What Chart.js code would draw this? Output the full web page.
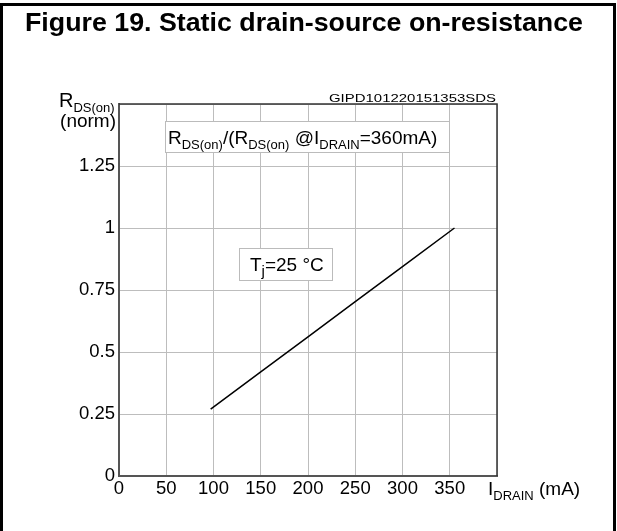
<!DOCTYPE html>
<html lang="en">
<head>
  <meta charset="UTF-8">
  <title>Static drain-source on-resistance</title>
  <script src="https://cdn.jsdelivr.net/npm/chart.js"></script>
  <style>
    body { margin: 0; background: #fff; }
    #chart { display: block; }
  </style>
</head>
<body>
  <canvas id="chart" width="617" height="531"></canvas>
  <script>
    // values
    const drainCurrent = [97, 150, 200, 250, 300, 355];   // mA
    const rdsNorm = [0.27, 0.42, 0.561, 0.703, 0.844, 1.0];
    const xRange = [0, 400];
    const yRange = [0, 1.5];
    const xStep = 50;
    const yStep = 0.25;

    const FONT = "'Liberation Sans', Arial, sans-serif";

    // draws text made of [text, isSubscript] pieces, starting at x
    function drawRich(ctx, parts, x, y, size, subSize) {
      parts.forEach(([t, sub]) => {
        ctx.font = (sub ? subSize : size) + 'px ' + FONT;
        ctx.fillText(t, x, sub ? y + 5 : y);
        x += ctx.measureText(t).width;
      });
    }

    function fitText(ctx, text, x, y, width, align) {
      const w = ctx.measureText(text).width;
      const sx = width / w;
      ctx.save();
      ctx.translate(x, y);
      ctx.scale(sx, 1);
      ctx.textAlign = align;
      ctx.fillText(text, 0, 0);
      ctx.restore();
    }

    function box(ctx, x1, y1, x2, y2) {
      ctx.fillStyle = '#fff';
      ctx.fillRect(x1, y1, x2 - x1, y2 - y1);
      ctx.strokeStyle = '#bbb';
      ctx.lineWidth = 1;
      ctx.strokeRect(x1 + 0.5, y1 + 0.5, x2 - x1, y2 - y1);
    }

    const figureText = {
      id: 'figureText',
      afterDraw(chart) {
        const ctx = chart.ctx;
        const a = chart.chartArea;
        ctx.save();

        // top and right edges of the plot
        ctx.strokeStyle = '#333';
        ctx.lineWidth = 1.5;
        ctx.beginPath();
        ctx.moveTo(a.left, a.top);
        ctx.lineTo(a.right, a.top);
        ctx.lineTo(a.right, a.bottom);
        ctx.stroke();

        // outer frame
        ctx.strokeStyle = '#000';
        ctx.lineWidth = 3;
        ctx.beginPath();
        ctx.moveTo(1.5, 540);
        ctx.lineTo(1.5, 4.5);
        ctx.lineTo(614.5, 4.5);
        ctx.lineTo(614.5, 540);
        ctx.stroke();

        ctx.fillStyle = '#000';
        ctx.textBaseline = 'alphabetic';

        // title
        ctx.font = 'bold 26px ' + FONT;
        fitText(ctx, 'Figure 19. Static drain-source on-resistance', 304, 31, 558, 'center');

        // code
        ctx.font = '11px ' + FONT;
        fitText(ctx, 'GIPD101220151353SDS', 496, 102, 167, 'right');

        // y axis title
        ctx.textAlign = 'left';
        drawRich(ctx, [['R', false], ['DS(on)', true]], 59, 107, 20, 13);
        ctx.font = '19px ' + FONT;
        ctx.textAlign = 'right';
        ctx.fillText('(norm)', 116, 127);
        ctx.textAlign = 'left';

        // x axis title
        drawRich(ctx, [['I', false], ['DRAIN', true], [' (mA)', false]], 488, 495, 19, 13);

        // note boxes
        box(ctx, 165, 121, 449, 152);
        ctx.fillStyle = '#000';
        drawRich(ctx, [['R', false], ['DS(on)', true], ['/(R', false], ['DS(on)', true],
          [' @I', false], ['DRAIN', true], ['=360mA)', false]], 168, 144, 19, 13);

        box(ctx, 239, 248, 332, 280);
        ctx.fillStyle = '#000';
        drawRich(ctx, [['T', false], ['j', true], ['=25 °C', false]], 250, 271, 19, 15);

        ctx.restore();
      }
    };

    new Chart(document.getElementById('chart'), {
      type: 'scatter',
      data: {
        datasets: [{
          data: drainCurrent.map((x, i) => ({ x: x, y: rdsNorm[i] })),
          showLine: true,
          borderColor: '#000',
          borderWidth: 1.5,
          pointRadius: 0,
          tension: 0
        }]
      },
      options: {
        responsive: false,
        animation: false,
        layout: { padding: { top: 104, right: 120, left: 0, bottom: 0 } },
        plugins: {
          legend: { display: false },
          tooltip: { enabled: false }
        },
        scales: {
          x: {
            type: 'linear',
            min: xRange[0],
            max: xRange[1],
            afterFit(scale) { scale.height = 55; },
            ticks: {
              stepSize: xStep,
              padding: 2,
              color: '#000',
              font: { family: FONT, size: 18.5 },
              maxRotation: 0,
              callback: v => (v === xRange[1] ? '' : v)
            },
            grid: { color: '#bdbdbd', lineWidth: 1, drawTicks: false },
            border: { color: '#555', width: 2 }
          },
          y: {
            type: 'linear',
            min: yRange[0],
            max: yRange[1],
            afterFit(scale) { scale.width = 119; },
            ticks: {
              stepSize: yStep,
              padding: 4,
              color: '#000',
              font: { family: FONT, size: 18.5 },
              callback: v => (v === yRange[1] ? '' : v)
            },
            grid: { color: '#bdbdbd', lineWidth: 1, drawTicks: false },
            border: { color: '#555', width: 2 }
          }
        }
      },
      plugins: [figureText]
    });
  </script>
</body>
</html>
